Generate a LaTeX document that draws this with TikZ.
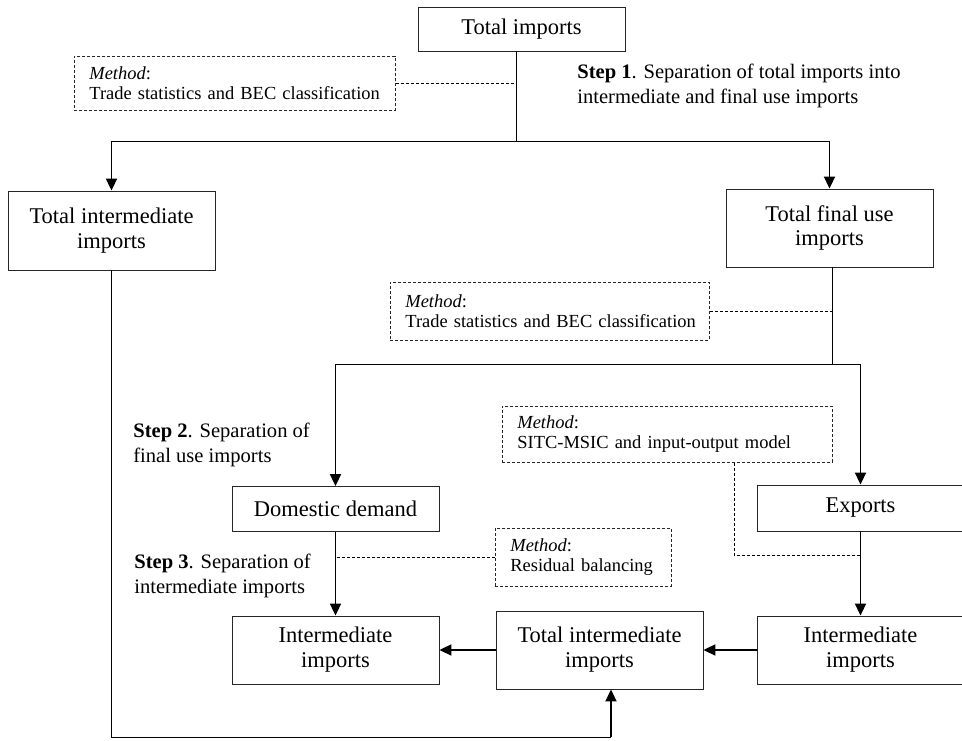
\documentclass[tikz,border=0pt]{standalone}
\usepackage{fontspec}
\setmainfont{Liberation Serif}
\usetikzlibrary{arrows.meta}

\begin{document}
\begin{tikzpicture}[
    >={Triangle[length=0.24cm,width=0.22cm]},
    box/.style={draw=black!85, line width=0.5pt, minimum width=4.14cm, align=center,
        font=\fontsize{12.8}{14.2}\selectfont},
    method/.style={draw=black!85, dash pattern=on 0.06cm off 0.04cm, line width=0.45pt,
        anchor=north west, align=left, inner xsep=0.3cm, font=\fontsize{10.5}{11.4}\selectfont},
    steptext/.style={anchor=west, align=left, inner sep=0pt, font=\fontsize{11.7}{13.9}\selectfont},
    arr/.style={->, line width=1.1pt},
    plain/.style={line width=0.55pt},
    link/.style={dash pattern=on 0.06cm off 0.04cm, line width=0.45pt}
]
    \useasboundingbox (0,0) rectangle (19.24,-14.82);

    % boxes
    \node[box, minimum height=0.88cm] (ti) at (10.43,-0.58) {Total imports};
    \node[box, minimum height=1.58cm] (tii) at (2.23,-4.61) {Total intermediate\\imports};
    \node[box, minimum height=1.56cm] (tfu) at (16.59,-4.56) {Total final use\\imports};
    \node[box, minimum height=0.9cm] (dd) at (6.71,-10.18) {Domestic demand};
    \node[box, minimum height=0.92cm] (ex) at (17.21,-10.16) {Exports};
    \node[box, minimum height=1.36cm] (iil) at (6.71,-13.0) {Intermediate\\imports};
    \node[box, minimum height=1.56cm] (tim) at (11.99,-13.0) {Total intermediate\\imports};
    \node[box, minimum height=1.36cm] (iir) at (17.21,-13.0) {Intermediate\\imports};

    % methods
    \node[method, text width=5.82cm, minimum height=1.08cm] (m1) at (1.48,-1.12)
        {\textit{Method}:\\\mbox{Trade statistics and BEC classification}};
    \node[method, text width=5.78cm, minimum height=1.16cm] (m2) at (7.8,-5.64)
        {\textit{Method}:\\\mbox{Trade statistics and BEC classification}};
    \node[method, text width=6.0cm, minimum height=1.12cm] (m3) at (10.04,-8.12)
        {\textit{Method}:\\\mbox{SITC-MSIC and input-output model}};
    \node[method, text width=2.92cm, minimum height=1.16cm] (m4) at (9.9,-10.56)
        {\textit{Method}:\\\mbox{Residual balancing}};

    % steps
    \node[steptext] (s1) at (11.54,-1.72)
        {\textbf{Step 1}. Separation of total imports into\\intermediate and final use imports};
    \node[steptext] (s2) at (2.66,-8.9)
        {\textbf{Step 2}. Separation of\\final use imports};
    \node[steptext] (s3) at (2.68,-11.52)
        {\textbf{Step 3}. Separation of\\intermediate imports};

    \coordinate (j1) at (10.32,-2.82);
    \coordinate (j2) at (16.64,-7.28);
    \coordinate (k) at (14.68,-11.1);
    \coordinate (b) at (12.22,-14.74);

    % step 1
    \draw[plain] (ti.south -| j1) -- (j1);
    \draw[plain] (j1 -| tii.north) -- (j1 -| tfu.north);
    \draw[arr] (j1 -| tii.north) -- (tii.north);
    \draw[arr] (j1 -| tfu.north) -- (tfu.north);
    \draw[link] (m1.east) -- (m1.east -| j1);

    % step 2
    \draw[plain] (tfu.south -| j2) -- (j2);
    \draw[plain] (j2 -| dd.north) -- (j2 -| ex.north);
    \draw[arr] (j2 -| dd.north) -- (dd.north);
    \draw[arr] (j2 -| ex.north) -- (ex.north);
    \draw[link] (m2.east) -- (m2.east -| j2);

    % step 3
    \draw[arr] (dd) -- (iil);
    \draw[link] (m4.west) -- (m4.west -| dd);
    \draw[arr] (ex) -- (iir);
    \draw[link] (m3.south -| k) |- (k -| ex.south);
    \draw[arr] (iir) -- (tim);
    \draw[arr] (tim) -- (iil);
    \draw[plain] (tii.south) |- (b);
    \draw[arr] (b) -- (b |- tim.south);
\end{tikzpicture}
\end{document}
